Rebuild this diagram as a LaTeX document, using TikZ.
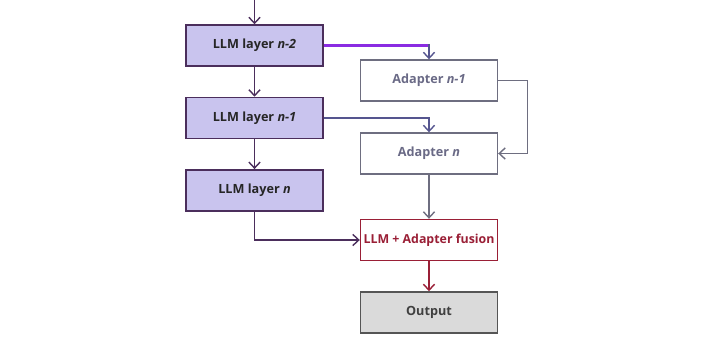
\documentclass[tikz,border=0pt]{standalone}
\usepackage{fontspec}
\setmainfont{Open Sans}
\usepackage{xcolor}
\usetikzlibrary{arrows.meta, positioning}

\definecolor{llmfill}{HTML}{C9C4EE}
\definecolor{llmdraw}{HTML}{4B2E5C}
\definecolor{adadraw}{HTML}{6E6E80}
\definecolor{adatext}{HTML}{6A6A86}
\definecolor{fusered}{HTML}{9A1F36}
\definecolor{outfill}{HTML}{DADADA}
\definecolor{outdraw}{HTML}{555555}
\definecolor{thickpurple}{HTML}{8A2BE2}
\definecolor{midblue}{HTML}{55558F}

\begin{document}
\begin{tikzpicture}[
        node distance=0.75cm and 0.925cm,
        llm/.style={rectangle, draw=llmdraw, fill=llmfill, line width=1pt, minimum width=3.425cm, minimum height=1.025cm, align=center, font=\fontsize{9}{11}\selectfont\bfseries, text=black!85},
        ada/.style={rectangle, draw=adadraw, fill=white, line width=1pt, minimum width=3.425cm, minimum height=1.025cm, align=center, font=\fontsize{9}{11}\selectfont\bfseries, text=adatext},
        fuse/.style={rectangle, draw=fusered, fill=white, line width=1pt, minimum width=3.425cm, minimum height=1.025cm, inner xsep=1pt, align=center, font=\fontsize{8.8}{11}\selectfont\bfseries, text=fusered},
        outbox/.style={rectangle, draw=outdraw, fill=outfill, line width=1pt, minimum width=3.425cm, minimum height=1.025cm, align=center, font=\fontsize{9}{11}\selectfont\bfseries, text=black!75},
        arr/.style={-{Straight Barb[length=1.5mm, width=2.8mm]}, line width=1pt}
    ]
        \useasboundingbox (0,0) rectangle (18,-8.425);

        % LLM column
        \node[llm] (l2) at (6.3625,-1.1375) {LLM layer \textit{n-2}};
        \node[llm, below=of l2] (l1) {LLM layer \textit{n-1}};
        \node[llm, below=of l1] (l0) {LLM layer \textit{n}};
        \coordinate (in) at (6.3625,0);

        % Adapter column
        \node[ada] (a1) at (10.725,-2.0125) {Adapter \textit{n-1}};
        \node[ada] (a0) at (10.725,-3.8375) {Adapter \textit{n}};
        \node[fuse] (fu) at (10.725,-6.0) {LLM + Adapter fusion};
        \node[outbox, below=of fu] (out) {Output};
        \coordinate (k1) at (l2.east -| a1.north);

        % LLM layer arrows
        \draw[arr, llmdraw] (in) -- (l2);
        \draw[arr, llmdraw] (l2) -- (l1);
        \draw[arr, llmdraw] (l1) -- (l0);
        \draw[arr, llmdraw] (l0.south) |- (fu.west);

        % Into the adapters
        \draw[thickpurple, line width=2.2pt] (l2.east) -- ([xshift=0.5pt]k1);
        \draw[arr, midblue] ([yshift=1.1pt]k1) -- (a1.north);
        \draw[arr, midblue] (l1.east) -| (a0.north);
        \draw[arr, adadraw] (a1.east) -- ++(0.725,0) |- (a0.east);
        \draw[arr, adadraw] (a0) -- (fu);

        % Fusion to output
        \draw[arr, fusered] (fu) -- (out);
    \end{tikzpicture}
\end{document}
